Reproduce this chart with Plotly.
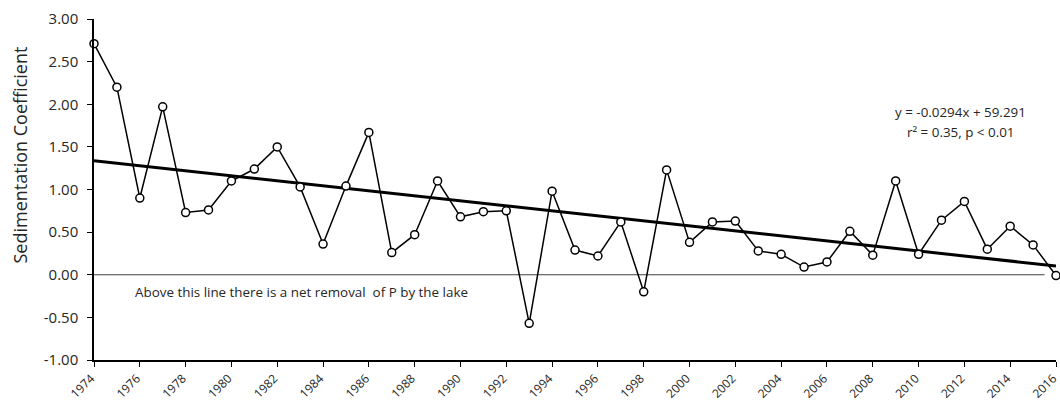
import numpy as np
import plotly.graph_objects as go

years = list(range(1974, 2017))
sed_coef = [2.71, 2.20, 0.90, 1.97, 0.73, 0.76, 1.10, 1.24, 1.50, 1.03,
            0.36, 1.04, 1.67, 0.26, 0.47, 1.10, 0.68, 0.74, 0.75, -0.57,
            0.98, 0.29, 0.22, 0.62, -0.20, 1.23, 0.38, 0.62, 0.63, 0.28,
            0.24, 0.09, 0.15, 0.51, 0.23, 1.10, 0.24, 0.64, 0.86, 0.30,
            0.57, 0.35, -0.01]
tick_years = list(range(1974, 2017, 2))
y_ticks = [-1.0, -0.5, 0.0, 0.5, 1.0, 1.5, 2.0, 2.5, 3.0]
zero_line_x = [1974, 2015.5]
zero_line_y = [0, 0]

slope, intercept = np.polyfit(years, sed_coef, 1)
trend_x = [1974, 2016]
trend_y = [slope * x + intercept for x in trend_x]

FONT = "Open Sans"
TXT = "#262626"

fig = go.Figure()
fig.add_trace(go.Scatter(x=zero_line_x, y=zero_line_y, mode="lines",
                         line=dict(color="#404040", width=1), hoverinfo="skip",
                         showlegend=False))
fig.add_trace(go.Scatter(x=trend_x, y=trend_y, mode="lines",
                         line=dict(color="black", width=3), showlegend=False))
fig.add_trace(go.Scatter(x=years, y=sed_coef, mode="lines+markers",
                         line=dict(color="black", width=1.5),
                         marker=dict(symbol="circle", size=8, color="white",
                                     line=dict(color="black", width=1.5)),
                         cliponaxis=False, showlegend=False))

fig.add_annotation(x=1975.7, y=-0.2, xref="x", yref="y", xanchor="left", yanchor="middle",
                   text="Above this line there is a net removal&nbsp;&nbsp;of P by the lake",
                   showarrow=False, font=dict(family=FONT, size=13.4, color=TXT))
fig.add_annotation(x=2011.83, y=1.91, xref="x", yref="y", xanchor="center", yanchor="middle",
                   text="y = -0.0294x + 59.291",
                   showarrow=False, font=dict(family=FONT, size=13.4, color=TXT))
fig.add_annotation(x=2011.83, y=1.675, xref="x", yref="y", xanchor="center", yanchor="middle",
                   text="r² = 0.35, p < 0.01",
                   showarrow=False, font=dict(family=FONT, size=13.4, color=TXT))

plot_w = 1060 - 94 - 4
plot_h = 401 - 19 - 41
title_px_x, title_px_y = 19.5, 155.0
fig.add_annotation(x=(title_px_x - 94) / plot_w, y=(401 - 41 - title_px_y) / plot_h,
                   xref="paper", yref="paper",
                   text="Sedimentation Coefficient", textangle=-90, showarrow=False,
                   xanchor="center", yanchor="middle",
                   font=dict(family=FONT, size=18, color=TXT))

fig.update_layout(
    width=1060, height=401,
    margin=dict(l=94, r=4, t=19, b=41),
    paper_bgcolor="white", plot_bgcolor="white",
    font=dict(family=FONT, size=13, color=TXT),
    showlegend=False,
)

fig.update_xaxes(range=[1974, 2016], tickmode="array", tickvals=tick_years,
                 ticktext=[str(t) for t in tick_years], tickangle=-45,
                 showgrid=False, zeroline=False, showline=True, linecolor="black",
                 linewidth=1.5, ticks="outside", ticklen=5, tickcolor="black",
                 tickfont=dict(size=12, color=TXT), automargin=False,
                 ticklabeloverflow="allow", ticklabelshift=-3)
fig.update_yaxes(range=[-1, 3], tickmode="array", tickvals=y_ticks,
                 ticktext=[f"{v:.2f}" for v in y_ticks],
                 showgrid=False, zeroline=False, showline=True, linecolor="black",
                 linewidth=1.5, ticks="outside", ticklen=5, tickcolor="black",
                 tickfont=dict(size=15, color=TXT), automargin=False,
                 ticklabelstandoff=6)

fig.write_html("out.html", config={"displayModeBar": False},
               post_script="document.body.style.margin='0';document.body.style.overflow='hidden';")
